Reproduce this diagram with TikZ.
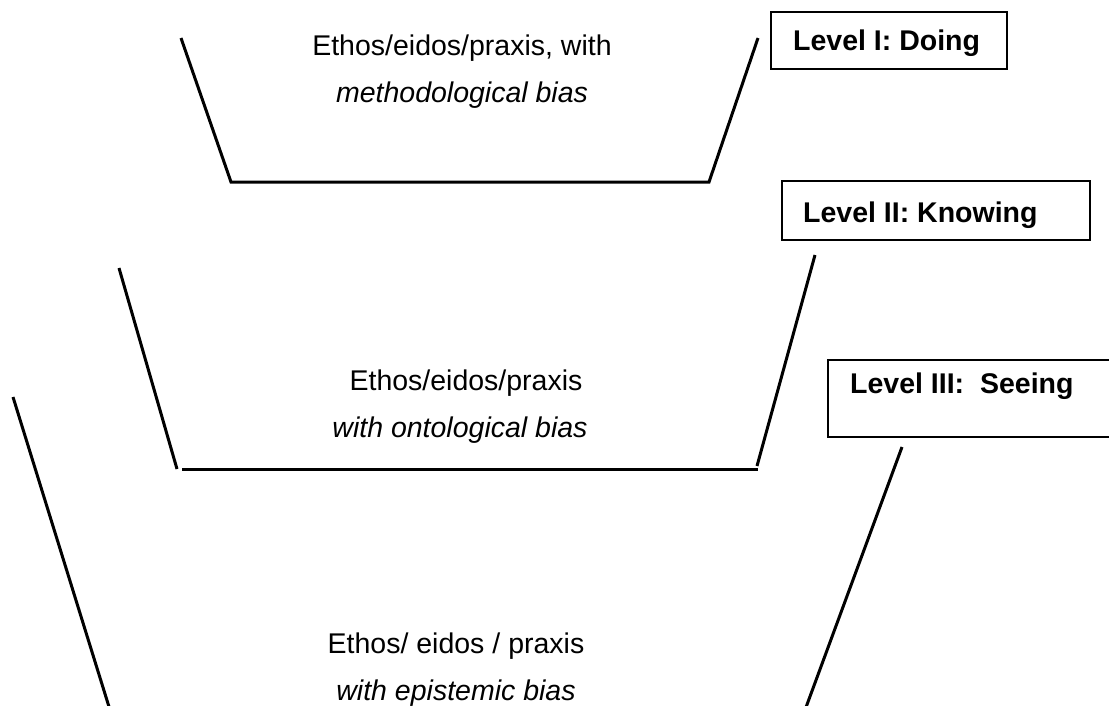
\documentclass[tikz,border=0pt]{standalone}
\usepackage{fontspec}
\setmainfont{Liberation Sans}
\begin{document}
\begin{tikzpicture}[x=1pt,y=-1pt,
  wall/.style={line width=3pt},
  levelbox/.style={line width=1.5pt},
  lbl/.style={anchor=base west,inner sep=0pt,font=\fontsize{28.5}{34}\selectfont\bfseries},
  txt/.style={anchor=base,inner sep=0pt,font=\fontsize{28.5}{34}\selectfont}]
\useasboundingbox (0,0) rectangle (1109,705);
\clip (0,0) rectangle (1109,705);
% Level I trapezoid
\draw[wall] (181,38) -- (231,182) -- (709,182) -- (758,38);
\node[txt] (t1a) at (462,55) {Ethos/eidos/praxis, with};
\node[txt] (t1b) at (462,102) {\itshape methodological bias};
% Level II trapezoid
\draw[wall] (119,268) -- (177,469);
\draw[wall] (182,469) -- (758,469);
\draw[wall] (757,466) -- (815,255);
\node[txt] (t2a) at (466,390) {Ethos/eidos/praxis};
\node[txt] (t2b) at (460,437) {\itshape with ontological bias};
% Level III trapezoid
\draw[wall] (13,397) -- (110,710);
\draw[wall] (902,447) -- (805,710);
\node[txt] (t3a) at (456,653) {Ethos/ eidos / praxis};
\node[txt] (t3b) at (456,700) {\itshape with epistemic bias};
% Level boxes
\draw[levelbox] (771,12) rectangle (1007,69);
\node[lbl] (l1) at (793,50) {Level I: Doing};
\draw[levelbox] (782,181) rectangle (1090,240);
\node[lbl] (l2) at (803,222) {Level II: Knowing};
\draw[levelbox] (828,360) rectangle (1120,437);
\node[lbl] (l3) at (850,393) {Level III:\ \ Seeing};
\end{tikzpicture}
\end{document}
